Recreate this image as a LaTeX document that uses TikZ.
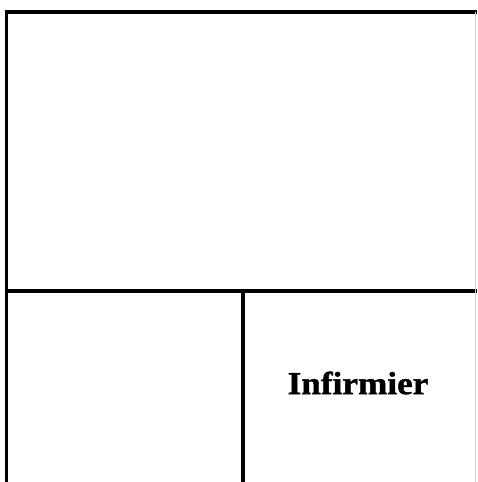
\documentclass[tikz,border=0pt]{standalone}
\usepackage{fontspec}
\setmainfont{Liberation Serif}[BoldFeatures={FakeBold=1.2}]
\tikzset{
  wall/.style={line width=3.6pt, black},
  label/.style={font=\fontsize{32}{32}\selectfont\bfseries, xscale=1.1, transform shape}
}
\begin{document}
\begin{tikzpicture}[x=1pt, y=1pt]
\useasboundingbox (0,0) rectangle (477,482);
\draw[wall] (6.5,0) -- (6.5,470) -- (477,470);
\draw[wall, line width=3.2pt] (6.5,191) -- (477,191);
\draw[wall, line width=3.2pt] (243,191) -- (243,0);
\draw[gray!40, line width=1pt] (475.5,470) -- (475.5,0);
\node[label] (infirmier) at (358,99) {Infirmier};
\end{tikzpicture}
\end{document}
